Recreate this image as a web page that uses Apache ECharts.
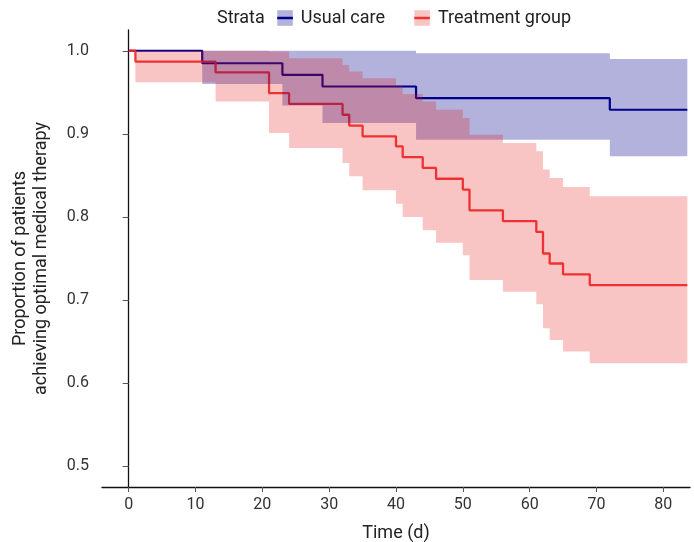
<!DOCTYPE html>
<html><head><meta charset="utf-8">
<script src="https://cdn.jsdelivr.net/npm/echarts@6/dist/echarts.min.js"></script>
<style>html,body{margin:0;padding:0;background:#fff}#c{width:694px;height:542px}</style>
</head><body><div id="c"></div>
<script>
// ---- data ----
const usualTime  = [0, 11, 23, 29, 43, 72, 83.6];
const usualSurv  = [1.0, 0.985, 0.971, 0.957, 0.943, 0.929, 0.929];
const usualLower = [1.0, 0.960, 0.934, 0.913, 0.893, 0.873, 0.873];
const usualUpper = [1.0, 1.0, 1.0, 1.0, 0.997, 0.990, 0.990];

const treatTime  = [0, 1, 13, 21, 24, 32, 33, 35, 40, 41, 44, 46, 50, 51, 56, 61, 62, 63, 65, 69, 83.6];
const treatSurv  = [1.0, 0.987, 0.974, 0.949, 0.936, 0.923, 0.910, 0.897, 0.885, 0.872, 0.859, 0.846, 0.833, 0.808, 0.795, 0.782, 0.756, 0.744, 0.731, 0.718, 0.718];
const treatLower = [1.0, 0.962, 0.939, 0.901, 0.883, 0.865, 0.849, 0.832, 0.816, 0.800, 0.784, 0.769, 0.754, 0.724, 0.710, 0.695, 0.666, 0.652, 0.638, 0.624, 0.624];
const treatUpper = [1.0, 1.0, 1.0, 0.999, 0.991, 0.983, 0.975, 0.967, 0.958, 0.948, 0.939, 0.929, 0.919, 0.899, 0.889, 0.879, 0.857, 0.847, 0.836, 0.825, 0.825];

const xTicks = [0, 10, 20, 30, 40, 50, 60, 70, 80];
const yTicks = [0.5, 0.6, 0.7, 0.8, 0.9, 1.0];
const seriesNames = ['Usual care', 'Treatment group'];
const legendTitle = 'Strata';
const xTitle = 'Time (d)';
const yTitle = 'Proportion of patients\nachieving optimal medical therapy';

// ---- styles ----
const FONT = 'Roboto';
const BLUE = '#00008b', RED = '#f02828';
const BLUE_BAND = 'rgba(0,0,139,0.3)', RED_BAND = 'rgba(230,20,20,0.25)';

function pairs(t, v) { return t.map((x, i) => [x, v[i]]); }

// confidence band as one step-shaped polygon, positioned through the axes (api.coord)
function bandSeries(name, t, lo, up, color) {
  return {
    name: name, type: 'custom', silent: true,
    data: [[t[0], lo[0]]],
    encode: { x: 0, y: 1 },
    renderItem: function (params, api) {
      const pts = [];
      for (let i = 0; i < t.length; i++) {
        if (i > 0) pts.push(api.coord([t[i], up[i - 1]]));
        pts.push(api.coord([t[i], up[i]]));
      }
      for (let i = t.length - 1; i >= 0; i--) {
        pts.push(api.coord([t[i], lo[i]]));
        if (i > 0) pts.push(api.coord([t[i], lo[i - 1]]));
      }
      return { type: 'polygon', shape: { points: pts }, style: { fill: color, stroke: null } };
    }
  };
}

const chart = echarts.init(document.getElementById('c'), null, { renderer: 'canvas' });
chart.setOption({
  animation: false,
  backgroundColor: '#fff',
  textStyle: { fontFamily: FONT },
  grid: { left: 102, right: 4, top: 30, bottom: 55, containLabel: false, outerBoundsMode: 'none' },
  graphic: [{ type: 'text', left: 217, top: 9,
    style: { text: legendTitle, fontSize: 18, fontFamily: FONT, fill: '#222' } }],
  legend: {
    left: 276, top: 9, padding: 0, itemWidth: 15.6, itemHeight: 19.5, itemGap: 28,
    textStyle: { fontSize: 18, fontFamily: FONT, color: '#222', padding: [0, 0, 0, 3] },
    data: [
      { name: seriesNames[0], itemStyle: { color: BLUE_BAND, borderWidth: 0 }, lineStyle: { color: BLUE, width: 2.5 } },
      { name: seriesNames[1], itemStyle: { color: RED_BAND, borderWidth: 0 }, lineStyle: { color: RED, width: 2.5 } }
    ]
  },
  xAxis: {
    type: 'value', min: -4, max: 84,
    name: xTitle, nameLocation: 'middle', nameGap: 37,
    nameTextStyle: { fontSize: 18, color: '#222', fontFamily: FONT },
    axisLine: { show: true, lineStyle: { color: '#111', width: 1.3 } },
    axisTick: { show: true, customValues: xTicks, length: 5, lineStyle: { color: '#555', width: 1 } },
    axisLabel: { customValues: xTicks, fontSize: 16, color: '#333', margin: 10, fontFamily: FONT },
    splitLine: { show: false }
  },
  yAxis: {
    type: 'value', min: 0.475, max: 1.025,
    name: yTitle, nameLocation: 'middle', nameGap: 50, nameRotate: 90,
    nameTextStyle: { fontSize: 18, color: '#222', fontFamily: FONT, lineHeight: 21, align: 'center' },
    axisLine: { show: true, lineStyle: { color: '#111', width: 1.3 } },
    axisTick: { show: true, customValues: yTicks, length: 6, lineStyle: { color: '#555', width: 1 } },
    axisLabel: { customValues: yTicks, fontSize: 16, color: '#333', margin: 13, fontFamily: FONT,
      formatter: v => v.toFixed(1) },
    splitLine: { show: false }
  },
  series: [
    { name: seriesNames[0], type: 'line', step: 'end', data: pairs(usualTime, usualSurv), z: 2,
      symbol: 'rect', showSymbol: false, color: BLUE, lineStyle: { color: BLUE, width: 2.2 } },
    { name: seriesNames[1], type: 'line', step: 'end', data: pairs(treatTime, treatSurv), z: 2,
      symbol: 'rect', showSymbol: false, color: RED, lineStyle: { color: RED, width: 2.3, opacity: 0.9 } },
    Object.assign(bandSeries('usual_band', usualTime, usualLower, usualUpper, BLUE_BAND), { z: 3 }),
    Object.assign(bandSeries('treat_band', treatTime, treatLower, treatUpper, RED_BAND), { z: 4 })
  ]
});
</script></body></html>
